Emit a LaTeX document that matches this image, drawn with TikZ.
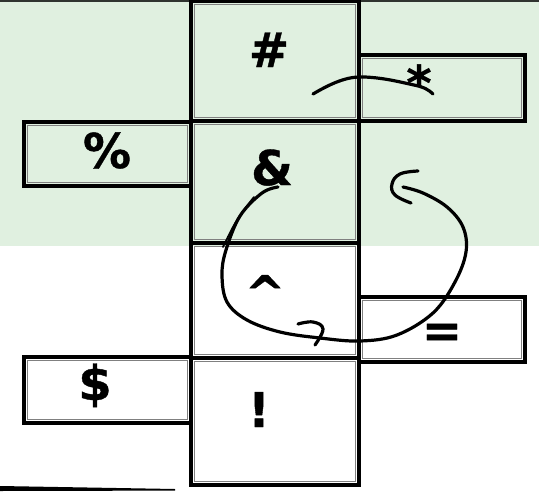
\documentclass[tikz,border=0pt]{standalone}
\usepackage{fontspec}
\setmainfont{DejaVu Sans}
\newfontfamily\lblfont{DejaVu Sans Bold}[FakeBold=0.8]
\definecolor{bggreen}{RGB}{224,240,224}
\definecolor{topline}{RGB}{48,52,48}
\begin{document}
\begin{tikzpicture}[x=1pt,y=-1pt,
  box/.style={draw=black, line width=3.6pt, rectangle, inner sep=0pt, outer sep=0pt},
  innerline/.style={draw=black!50, line width=1.1pt},
  lbl/.style={font=\lblfont\fontsize{48}{48}\selectfont, anchor=base, inner sep=0pt},
  pen/.style={line width=3.2pt, line cap=round, line join=round},
  thinpen/.style={line width=1.8pt, line cap=round, line join=round}]
\useasboundingbox (0,0) rectangle (539,491);
% background
\fill[bggreen] (0,0) rectangle (539,246);
\fill[topline] (0,0) rectangle (539,2);
% centre column
\node[box, minimum width=168pt, minimum height=120pt] (hashbox) at (275,61) {};
\node[box, minimum width=168pt, minimum height=122pt] (ampbox) at (275,182) {};
\node[box, minimum width=168pt, minimum height=115pt] (caretbox) at (275,300.5) {};
\node[box, minimum width=168pt, minimum height=127pt] (bangbox) at (275,421.5) {};
% side boxes
\node[box, minimum width=167pt, minimum height=64pt] (pctbox) at (107.5,154) {};
\node[box, minimum width=167pt, minimum height=66pt] (dollarbox) at (107.5,390) {};
\node[box, minimum width=166pt, minimum height=66pt] (starbox) at (442,88) {};
\node[box, minimum width=166pt, minimum height=65pt] (eqbox) at (442,329.5) {};
\foreach \n in {hashbox,ampbox,caretbox,bangbox,pctbox,dollarbox,starbox,eqbox}
  \draw[innerline] ([shift={(3.8pt,-3.8pt)}]\n.north west) rectangle ([shift={(-3.8pt,3.8pt)}]\n.south east);
% labels
\node[lbl] (hash) at (269,67) {\#};
\node[lbl] (star) at (419,100) {*};
\node[lbl] (pct) at (107,168) {\%};
\node[lbl] (amp) at (272,185) {\&};
\node[lbl] (caret) at (265,310) {\textasciicircum};
\node[lbl] (eq) at (442,347) {=};
\node[lbl] (dollar) at (95,400) {\$};
\node[lbl] (bang) at (259,427) {!};
% hand-drawn strokes
\coordinate (c1s) at (313,94);
\coordinate (c1e) at (433,94);
\draw[pen] (c1s) .. controls (335,81) and (350,76) .. (365,77)
  .. controls (385,78) and (400,82) .. (414,85) .. controls (424,87) and (429,90) .. (c1e);
\coordinate (c2s) at (278,187);
\coordinate (c2e) at (403,187);
\draw[pen] plot[smooth, tension=0.6] coordinates {(c2s) (262,193) (240,216) (226,250) (222,275) (227,302) (247,320) (280,332) (320,338) (360,341) (397,335) (433,313) (455,282) (466,252) (463,227) (447,207) (423,193) (c2e)};
\draw[thinpen] plot[smooth, tension=0.6] coordinates {(254,197) (237,220) (223,247)};
\draw[pen] plot[smooth, tension=0.7] coordinates {(418,171) (400,174) (392,184) (395,195) (411,203)};
\draw[pen] plot[smooth, tension=0.7] coordinates {(298,324) (313,322) (323,329) (315,345)};
% bottom-left stroke
\fill[black] (0,486) -- (175,489) -- (175,490.6) -- (0,491) -- cycle;
\end{tikzpicture}
\end{document}
